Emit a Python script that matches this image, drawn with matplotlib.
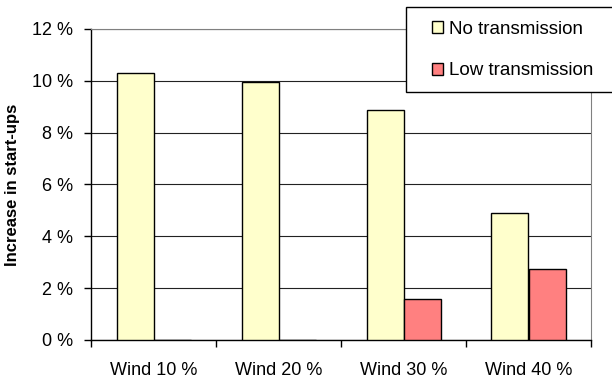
import matplotlib.pyplot as plt
import numpy as np
from matplotlib.patches import Rectangle

plt.rcParams["font.family"] = ["Liberation Sans", "DejaVu Sans"]

categories = ["Wind 10 %", "Wind 20 %", "Wind 30 %", "Wind 40 %"]
no_transmission = [10.3, 9.97, 8.87, 4.9]
low_transmission = [0.0, 0.0, 1.6, 2.75]
y_ticks = [0, 2, 4, 6, 8, 10, 12]
y_tick_labels = ["0 %", "2 %", "4 %", "6 %", "8 %", "10 %", "12 %"]


def main():
    """draw the grouped bar chart"""
    fig = plt.figure(figsize=(6.12, 3.78), dpi=100)
    ax = fig.add_axes([91 / 612, 1 - 340 / 378, 500 / 612, 311 / 378])

    x = np.arange(len(categories))
    w = 0.296
    ax.bar(x - w / 2, no_transmission, w, color="#FFFFCC",
           edgecolor="black", linewidth=1.0, zorder=3,
           label="No transmission")
    ax.bar(x + w / 2, low_transmission, w, color="#FF8080",
           edgecolor="black", linewidth=1.0, zorder=3,
           label="Low transmission")

    ax.set_xlim(-0.5, len(categories) - 0.5)
    ax.set_ylim(0, 12)

    # y axis
    ax.set_yticks(y_ticks)
    ax.set_yticklabels(y_tick_labels, fontsize=13)
    ax.tick_params(axis="y", direction="out", length=5, width=1, pad=8)
    ax.yaxis.grid(True, color="#222222", linewidth=0.8, zorder=0)

    # x axis: labels at centres, tick marks at category boundaries
    ax.set_xticks(x)
    ax.set_xticklabels(categories, fontsize=13)
    ax.tick_params(axis="x", which="major", length=0, pad=16)
    ax.set_xticks(np.arange(len(categories) + 1) - 0.5, minor=True)
    ax.tick_params(axis="x", which="minor", direction="out",
                   length=5, width=1)

    ax.spines["left"].set_color("black")
    ax.spines["bottom"].set_color("black")
    ax.spines["left"].set_linewidth(1.0)
    ax.spines["bottom"].set_linewidth(1.0)
    ax.spines["top"].set_color("#808080")
    ax.spines["right"].set_color("#808080")
    ax.set_axisbelow(True)

    fig.text(13 / 612, 1 - 185 / 378, "Increase in start-ups",
             rotation=90, ha="center", va="center",
             fontsize=12, fontweight="bold")

    # legend box runs off the right edge
    frame = Rectangle((406 / 612, 1 - 92 / 378), 0.4, 85 / 378,
                      transform=fig.transFigure, facecolor="white",
                      edgecolor="black", linewidth=1.0, zorder=5)
    fig.patches.append(frame)
    leg = fig.legend(loc="upper left",
                     bbox_to_anchor=(432 / 612, 1 - 21 / 378),
                     bbox_transform=fig.transFigure,
                     frameon=False, fontsize=13.5, borderpad=0,
                     borderaxespad=0, handlelength=0.6,
                     handleheight=0.6, handletextpad=0.3,
                     labelspacing=1.3)
    leg.set_zorder(6)

    fig.savefig("out.png", dpi=100)


if __name__ == "__main__":
    main()
